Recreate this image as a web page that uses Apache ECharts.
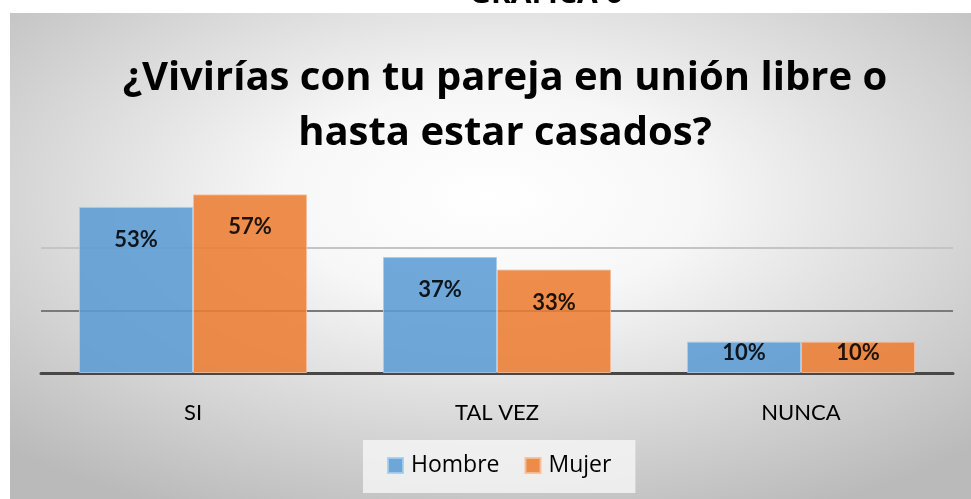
<!DOCTYPE html>
<html>
<head>
<meta charset="utf-8">
<script src="https://cdn.jsdelivr.net/npm/echarts@6/dist/echarts.min.js"></script>
<style>
  html, body { margin: 0; padding: 0; background: #fff; }
  #chart { width: 971px; height: 499px; }
</style>
</head>
<body>
<div id="chart"></div>
<script>
// datos de la gráfica
const categorias = ["SI", "TAL VEZ", "NUNCA"];
const hombre = [53, 37, 10];
const mujer = [57, 33, 10];
const ticksY = [0, 20, 40, 60];

const fuente = "Lato";
const fuenteTitulo = "Open Sans";

// etiqueta dentro de la barra, más abajo cuando la barra es alta
function conEtiqueta(valores) {
  return valores.map(function (v) {
    return {
      value: v,
      label: { distance: v >= 20 ? 22 : 0 },
    };
  });
}

const chart = echarts.init(document.getElementById("chart"));
chart.setOption({
  animation: false,
  textStyle: { fontFamily: fuente },
  graphic: [
    {
      // fondo con degradado radial (se estira en horizontal)
      type: "rect",
      x: 10,
      y: 13,
      scaleX: 961 / 486,
      z: -10,
      silent: true,
      shape: { x: 0, y: 0, width: 486, height: 486 },
      style: {
        fill: new echarts.graphic.RadialGradient(0.5, 0.38, 0.72, [
          { offset: 0, color: "#ffffff" },
          { offset: 0.3, color: "#f7f7f7" },
          { offset: 1, color: "#bababa" },
        ]),
      },
    },
    {
      type: "text",
      x: 546,
      y: 9,
      z: 10,
      style: {
        text: "GRÁFICA 6",
        font: "bold 30px " + fuenteTitulo,
        fill: "#000",
        textAlign: "center",
        textVerticalAlign: "bottom",
      },
    },
  ],
  title: {
    text: "¿Vivirías con tu pareja en unión libre o\nhasta estar casados?",
    left: 500,
    top: 46,
    textAlign: "center",
    textStyle: {
      fontFamily: fuenteTitulo,
      fontSize: 40,
      fontWeight: "bold",
      lineHeight: 55,
      color: "#000",
    },
  },
  legend: {
    data: ["Hombre", "Mujer"],
    left: 363,
    top: 440,
    padding: [14, 24, 16, 24],
    backgroundColor: "rgba(246,246,246,0.8)",
    itemWidth: 15,
    itemHeight: 15,
    itemGap: 25,
    icon: "rect",
    textStyle: { fontFamily: fuenteTitulo, fontSize: 23, color: "#000", padding: [0, 0, 0, 3] },
  },
  grid: {
    left: 41,
    right: 18,
    top: 185,
    bottom: 126,
    containLabel: false,
  },
  xAxis: {
    type: "category",
    data: categorias,
    axisTick: { show: false },
    axisLine: { show: true, lineStyle: { color: "#474747", width: 3 } },
    axisLabel: { fontFamily: fuente, fontSize: 22, color: "#000", margin: 29 },
  },
  yAxis: {
    type: "value",
    min: ticksY[0],
    max: ticksY[ticksY.length - 1],
    interval: ticksY[1] - ticksY[0],
    axisLabel: { show: false },
    axisLine: { show: false },
    axisTick: { show: false },
    splitLine: {
      show: true,
      lineStyle: {
        color: ["rgba(0,0,0,0)", "#7a7a7a", "#c4c4c4", "rgba(0,0,0,0)"],
        width: 2,
      },
    },
  },
  series: [
    {
      name: "Hombre",
      type: "bar",
      barGap: "0%",
      barCategoryGap: "25%",
      itemStyle: { color: "#5B9BD5", opacity: 0.87, borderColor: "#a9cbea", borderWidth: 1 },
      label: {
        show: true,
        position: "insideTop",
        formatter: "{c}%",
        fontFamily: fuente,
        fontSize: 22,
        fontWeight: "bold",
        color: "#000",
      },
      data: conEtiqueta(hombre),
    },
    {
      name: "Mujer",
      type: "bar",
      itemStyle: { color: "#ED7D31", opacity: 0.87, borderColor: "#f6bd97", borderWidth: 1 },
      label: {
        show: true,
        position: "insideTop",
        formatter: "{c}%",
        fontFamily: fuente,
        fontSize: 22,
        fontWeight: "bold",
        color: "#000",
      },
      data: conEtiqueta(mujer),
    },
  ],
});
</script>
</body>
</html>
